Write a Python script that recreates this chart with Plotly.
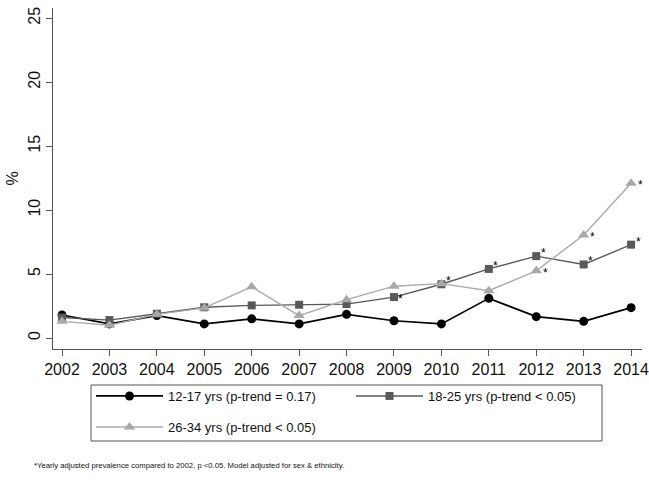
import plotly.graph_objects as go

years = list(range(2002, 2015))
teen = [1.8, 1.1, 1.75, 1.1, 1.5, 1.1, 1.85, 1.35, 1.1, 3.1, 1.67, 1.3, 2.37]
young = [1.6, 1.4, 1.9, 2.4, 2.55, 2.6, 2.65, 3.2, 4.2, 5.4, 6.4, 5.75, 7.3]
adult = [1.3, 1.0, 1.85, 2.35, 4.0, 1.75, 3.0, 4.05, 4.25, 3.7, 5.25, 8.05, 12.1]

young_sig = [0, 0, 0, 0, 0, 0, 0, 1, 1, 1, 1, 1, 1]
adult_sig = [0, 0, 0, 0, 0, 0, 0, 0, 0, 0, 1, 1, 1]

names = ["12-17 yrs (p-trend = 0.17)", "18-25 yrs (p-trend < 0.05)", "26-34 yrs (p-trend < 0.05)"]
yticks = [0, 5, 10, 15, 20, 25]
footnote = "*Yearly adjusted prevalence compared to 2002, p <0.05. Model adjusted for sex & ethnicity."

FONT = "Liberation Sans, Arial, sans-serif"

# plot area geometry (pixels)
L, R, T, B = 53, 7, 8, 132
W, H = 649 - L - R, 481 - T - B


def px_x(p):
    return (p - L) / W


def px_y(p):
    return (481 - B - p) / H


fig = go.Figure()
fig.add_trace(go.Scatter(x=years, y=teen, name=names[0], mode="lines+markers",
                         line=dict(color="#000000", width=1.7),
                         marker=dict(symbol="circle", size=9, color="#000000"),
                         legend="legend"))
fig.add_trace(go.Scatter(x=years, y=young, name=names[1], mode="lines+markers",
                         line=dict(color="#595959", width=1.4),
                         marker=dict(symbol="square", size=8, color="#595959"),
                         legend="legend"))
fig.add_trace(go.Scatter(x=years, y=adult, name=names[2], mode="lines+markers",
                         line=dict(color="#aaaaaa", width=1.4),
                         marker=dict(symbol="triangle-up", size=10, color="#a8a8a8"),
                         legend="legend2"))

annotations = []
for x, v, s in zip(years, young, young_sig):
    if s:
        ys = -2 if x == 2009 else 3
        annotations.append(dict(x=x, y=v, xref="x", yref="y", text="*", showarrow=False,
                                xshift=7, yshift=ys,
                                font=dict(size=12, color="#000000")))
for x, v, s in zip(years, adult, adult_sig):
    if s:
        annotations.append(dict(x=x, y=v, xref="x", yref="y", text="*", showarrow=False,
                                xshift=9, yshift=-2,
                                font=dict(size=12, color="#000000")))

annotations.append(dict(text=footnote, x=px_x(32), xanchor="left", y=px_y(465), yanchor="middle",
                        xref="paper", yref="paper", showarrow=False,
                        font=dict(size=7.7, color="#111111")))

legend_common = dict(orientation="h", xanchor="left", yanchor="middle",
                     borderwidth=0, bgcolor="rgba(0,0,0,0)",
                     font=dict(size=13, color="#111111"),
                     itemwidth=67, entrywidth=178, traceorder="normal")

fig.update_layout(
    width=649, height=481,
    margin=dict(l=L, r=R, t=T, b=B),
    paper_bgcolor="white", plot_bgcolor="white",
    font=dict(family=FONT, size=16, color="#111111"),
    xaxis=dict(range=[2001.81, 2014.23], tickmode="array", tickvals=years,
               ticktext=[str(y) for y in years], automargin=False,
               showline=True, linecolor="#555555", linewidth=1,
               ticks="outside", ticklen=6, tickcolor="#555555",
               showgrid=False, zeroline=False, tickfont=dict(size=16)),
    yaxis=dict(range=[-0.86, 25.8], tickmode="array", tickvals=yticks,
               showline=True, linecolor="#555555", linewidth=1, automargin=False,
               ticks="outside", ticklen=6, tickcolor="#555555",
               showgrid=False, zeroline=False, tickangle=-90,
               tickfont=dict(size=16),
               title=dict(text="%", font=dict(size=16), standoff=2)),
    legend=dict(x=px_x(91), y=px_y(396), **legend_common),
    legend2=dict(x=px_x(91), y=px_y(427), **legend_common),
    showlegend=True,
    shapes=[dict(type="rect", xref="paper", yref="paper",
                 x0=px_x(91), x1=px_x(602), y0=px_y(385), y1=px_y(441),
                 line=dict(color="#555555", width=1), fillcolor="rgba(0,0,0,0)")],
    annotations=annotations,
)

fig.write_html("out.html")
